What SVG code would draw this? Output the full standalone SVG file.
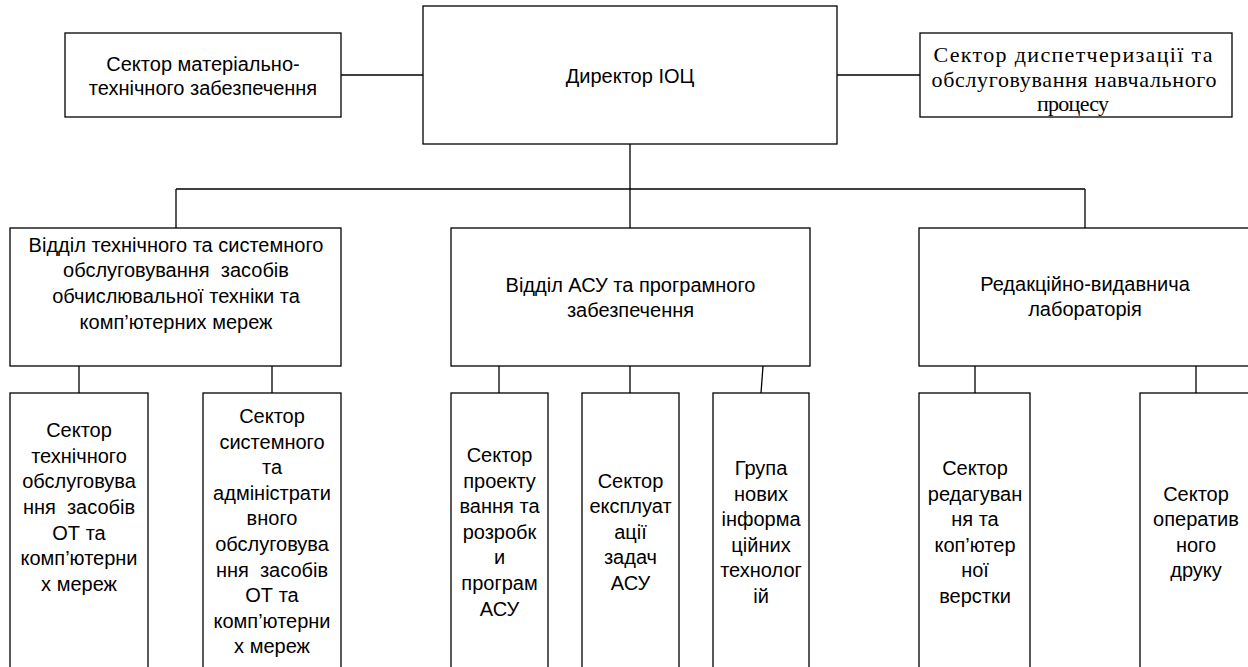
<svg xmlns="http://www.w3.org/2000/svg" width="1248" height="667" viewBox="0 0 1248 667">
<style>
.box{fill:#fff;stroke:#000;stroke-width:1.3}
.ln{stroke:#000;stroke-width:1.3;fill:none}
.t{font-family:"Liberation Sans",Arial,sans-serif;font-size:20px;fill:#000;text-anchor:middle}
.s{font-family:"Liberation Serif","Times New Roman",serif;font-size:22px;fill:#000;text-anchor:middle}
</style>
<rect width="1248" height="667" fill="#fff"/>
<g id="connectors">
<line class="ln" x1="341" y1="75" x2="423" y2="75"/>
<line class="ln" x1="837" y1="75" x2="920" y2="75"/>
<line class="ln" x1="630" y1="144" x2="630" y2="228"/>
<line class="ln" x1="176" y1="189" x2="1085" y2="189"/>
<line class="ln" x1="176" y1="189" x2="176" y2="228"/>
<line class="ln" x1="1085" y1="189" x2="1085" y2="228"/>
<line class="ln" x1="79" y1="366" x2="79" y2="393"/>
<line class="ln" x1="272" y1="366" x2="272" y2="393"/>
<line class="ln" x1="499" y1="366" x2="499" y2="393"/>
<line class="ln" x1="630" y1="366" x2="630" y2="393"/>
<line class="ln" x1="763" y1="366" x2="761" y2="393"/>
<line class="ln" x1="975" y1="366" x2="975" y2="393"/>
<line class="ln" x1="1196" y1="366" x2="1196" y2="393"/>
</g>
<g id="n-mat">
<rect class="box" x="65" y="33" width="276" height="84"/>
<text class="t" x="203" y="70.5">Сектор матеріально-</text>
<text class="t" x="203" y="95">технічного забезпечення</text>
</g>
<g id="n-dir">
<rect class="box" x="423" y="6" width="414" height="138"/>
<text class="t" x="630" y="83">Директор ІОЦ</text>
</g>
<g id="n-disp">
<rect class="box" x="920" y="33" width="312" height="84"/>
<text class="s" x="1073" y="62" textLength="279" lengthAdjust="spacing">Сектор диспетчеризації та</text>
<text class="s" x="1074" y="87" textLength="285" lengthAdjust="spacing">обслуговування навчального</text>
<text class="s" x="1073" y="111" textLength="72" lengthAdjust="spacing">процесу</text>
</g>
<g id="n-tech">
<rect class="box" x="10" y="228" width="331" height="138"/>
<text class="t" x="176" y="251.7">Відділ технічного та системного</text>
<text class="t" x="176" y="277.3" xml:space="preserve">обслуговування  засобів</text>
<text class="t" x="176" y="303">обчислювальної техніки та</text>
<text class="t" x="176" y="328.5">комп’ютерних мереж</text>
</g>
<g id="n-asu">
<rect class="box" x="451" y="228" width="359" height="138"/>
<text class="t" x="630.5" y="291.7">Відділ АСУ та програмного</text>
<text class="t" x="630.5" y="316.7">забезпечення</text>
</g>
<g id="n-red">
<rect class="box" x="919" y="228" width="340" height="138"/>
<text class="t" x="1085" y="290.7">Редакційно-видавнича</text>
<text class="t" x="1085" y="316">лабораторія</text>
</g>
<g id="n-b1">
<rect class="box" x="10" y="393" width="138" height="290"/>
<text class="t" x="79" y="437">Сектор</text>
<text class="t" x="79" y="462.7">технічного</text>
<text class="t" x="79" y="488.3">обслуговува</text>
<text class="t" x="79" y="514" xml:space="preserve">ння  засобів</text>
<text class="t" x="79" y="539.7">ОТ та</text>
<text class="t" x="79" y="565.3">комп’ютерни</text>
<text class="t" x="79" y="591">х мереж</text>
</g>
<g id="n-b2">
<rect class="box" x="203" y="393" width="138" height="290"/>
<text class="t" x="272" y="423">Сектор</text>
<text class="t" x="272" y="448.6">системного</text>
<text class="t" x="272" y="474.2">та</text>
<text class="t" x="272" y="499.8">адміністрати</text>
<text class="t" x="272" y="525.4">вного</text>
<text class="t" x="272" y="551">обслуговува</text>
<text class="t" x="272" y="576.6" xml:space="preserve">ння  засобів</text>
<text class="t" x="272" y="602.2">ОТ та</text>
<text class="t" x="272" y="627.8">комп’ютерни</text>
<text class="t" x="272" y="653.4">х мереж</text>
</g>
<g id="n-b3">
<rect class="box" x="451" y="393" width="97" height="290"/>
<text class="t" x="499.5" y="462">Сектор</text>
<text class="t" x="499.5" y="487.6">проекту</text>
<text class="t" x="499.5" y="513.2">вання та</text>
<text class="t" x="499.5" y="538.8">розробк</text>
<text class="t" x="499.5" y="564.4">и</text>
<text class="t" x="499.5" y="590">програм</text>
<text class="t" x="499.5" y="615.6">АСУ</text>
</g>
<g id="n-b4">
<rect class="box" x="582" y="393" width="97" height="290"/>
<text class="t" x="630.5" y="487.5">Сектор</text>
<text class="t" x="630.5" y="513">експлуат</text>
<text class="t" x="630.5" y="538.5">ації</text>
<text class="t" x="630.5" y="564">задач</text>
<text class="t" x="630.5" y="589.5">АСУ</text>
</g>
<g id="n-b5">
<rect class="box" x="713" y="393" width="96" height="290"/>
<text class="t" x="761" y="475">Група</text>
<text class="t" x="761" y="500.5">нових</text>
<text class="t" x="761" y="526">інформа</text>
<text class="t" x="761" y="551.5">ційних</text>
<text class="t" x="761" y="577">технолог</text>
<text class="t" x="761" y="602.5">ій</text>
</g>
<g id="n-b6">
<rect class="box" x="919" y="393" width="111" height="290"/>
<text class="t" x="975" y="475">Сектор</text>
<text class="t" x="975" y="500.5">редагуван</text>
<text class="t" x="975" y="526">ня та</text>
<text class="t" x="975" y="551.5">коп’ютер</text>
<text class="t" x="975" y="577">ної</text>
<text class="t" x="975" y="602.5">верстки</text>
</g>
<g id="n-b7">
<rect class="box" x="1140" y="393" width="120" height="290"/>
<text class="t" x="1196" y="500.5">Сектор</text>
<text class="t" x="1196" y="526">оператив</text>
<text class="t" x="1196" y="551.5">ного</text>
<text class="t" x="1196" y="577">друку</text>
</g>
</svg>
